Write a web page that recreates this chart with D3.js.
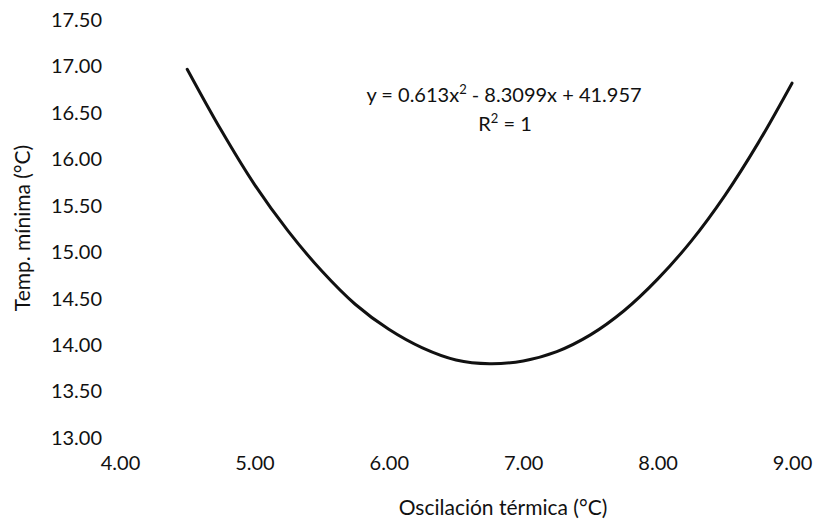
<!DOCTYPE html>
<html>
<head>
<meta charset="utf-8">
<script src="https://cdn.jsdelivr.net/npm/d3@7"></script>
<style>
  body { margin: 0; background: #fff; }
  text { font-family: Lato, "Open Sans", sans-serif; fill: #111; }
</style>
</head>
<body>
<script>
// values
const oscilacion = [4.50, 4.75, 5.00, 5.25, 5.50, 5.75, 6.00, 6.25, 6.50, 6.75, 7.00, 7.25, 7.50, 7.75, 8.00, 8.25, 8.50, 8.75, 9.00];
const tempMinima = [16.97, 16.32, 15.73, 15.23, 14.80, 14.44, 14.17, 13.97, 13.84, 13.80, 13.83, 13.93, 14.11, 14.37, 14.71, 15.12, 15.61, 16.18, 16.82];
const xTicks = [4, 5, 6, 7, 8, 9];
const yTicks = [13, 13.5, 14, 14.5, 15, 15.5, 16, 16.5, 17, 17.5];

document.addEventListener("DOMContentLoaded", () => {
    const width = 815;
    const height = 522;

    const x = d3.scaleLinear().domain([4, 9]).range([120, 792]);
    const y = d3.scaleLinear().domain([13, 17.5]).range([438, 20]);

    const svg = d3.select('body')
        .append('svg')
        .attr('width', width)
        .attr('height', height);

    // y axis labels only, no line
    const yAxis = svg.append('g')
        .attr('transform', 'translate(102,0)')
        .call(d3.axisLeft(y).tickValues(yTicks).tickSize(0).tickPadding(0).tickFormat(d3.format('.2f')));
    yAxis.select('.domain').remove();
    yAxis.selectAll('text').style('font-size', '20px').style('font-family', 'Lato').attr('fill', '#111');

    const xAxis = svg.append('g')
        .attr('transform', 'translate(0,456)')
        .call(d3.axisBottom(x).tickValues(xTicks).tickSize(0).tickPadding(0).tickFormat(d3.format('.2f')));
    xAxis.select('.domain').remove();
    xAxis.selectAll('text').style('font-size', '20px').style('font-family', 'Lato').attr('fill', '#111');

    const pts = oscilacion.map((d, i) => [d, tempMinima[i]]);
    const line = d3.line()
        .x(d => x(d[0]))
        .y(d => y(d[1]))
        .curve(d3.curveCatmullRom);

    svg.append('path')
        .datum(pts)
        .attr('d', line)
        .attr('fill', 'none')
        .attr('stroke', '#111')
        .attr('stroke-width', 3)
        .attr('stroke-linecap', 'round');

    // trendline equation
    const eq = svg.append('text')
        .attr('x', 504)
        .attr('y', 102)
        .attr('text-anchor', 'middle')
        .style('font-size', '20px');
    eq.append('tspan').text('y = 0.613x');
    eq.append('tspan').attr('dy', -8).style('font-size', '13px').text('2');
    eq.append('tspan').attr('dy', 8).text(' - 8.3099x + 41.957');

    const r2 = svg.append('text')
        .attr('x', 505)
        .attr('y', 131)
        .attr('text-anchor', 'middle')
        .style('font-size', '20px');
    r2.append('tspan').text('R');
    r2.append('tspan').attr('dy', -8).style('font-size', '13px').text('2');
    r2.append('tspan').attr('dy', 8).text(' = 1');

    // axis titles
    svg.append('text')
        .attr('x', 503)
        .attr('y', 515)
        .attr('text-anchor', 'middle')
        .style('font-size', '21px')
        .text('Oscilación térmica (°C)');

    svg.append('text')
        .attr('transform', 'translate(30,228) rotate(-90)')
        .attr('text-anchor', 'middle')
        .style('font-size', '21px')
        .text('Temp. mínima (°C)');
});
</script>
</body>
</html>
